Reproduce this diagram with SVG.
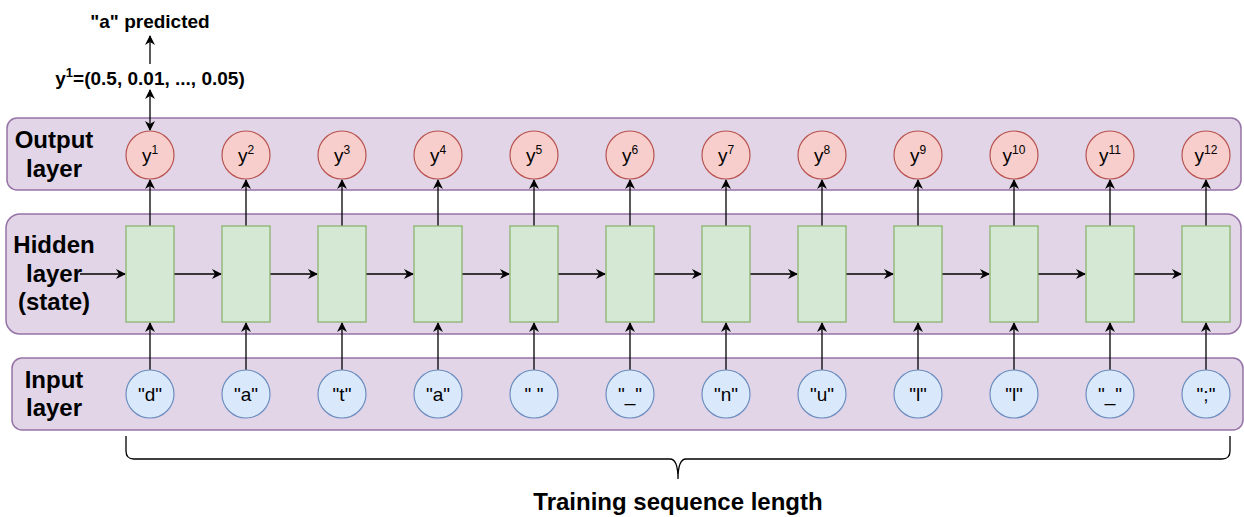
<svg xmlns="http://www.w3.org/2000/svg" width="1244" height="517" viewBox="0 0 1244 517">
<style>
.layer{fill:#e1d5e7;stroke:#9673a6;stroke-width:1.5}
.out{fill:#f8cecc;stroke:#b85450;stroke-width:1.2}
.inp{fill:#dae8fc;stroke:#6c8ebf;stroke-width:1.2}
.hid{fill:#d5e8d4;stroke:#82b366;stroke-width:1.2}
.lbl{font-family:"Liberation Sans",Arial,sans-serif;font-weight:bold;font-size:24px;fill:#000;text-anchor:middle}
.t{font-family:"Liberation Sans",Arial,sans-serif;font-size:19px;fill:#000;text-anchor:middle}
.b{font-family:"Liberation Sans",Arial,sans-serif;font-weight:bold;font-size:19px;fill:#000;text-anchor:middle}
.c{stroke:#000;stroke-width:1.3;fill:none}
</style>
<defs>
<marker id="ah" viewBox="0 0 10 10" refX="9" refY="5" markerWidth="10" markerHeight="10" markerUnits="userSpaceOnUse" orient="auto-start-reverse">
<path d="M0,0 L10,5 L0,10 L3,5 Z" fill="#000"/>
</marker>
</defs>
<g id="layers">
<g id="output-layer"><rect class="layer" x="7" y="118" width="1234" height="72" rx="10"/><text class="lbl" x="54" y="148">Output</text><text class="lbl" x="54" y="177">layer</text></g>
<g id="hidden-layer"><rect class="layer" x="6" y="214" width="1235" height="120" rx="14"/><text class="lbl" x="54" y="253">Hidden</text><text class="lbl" x="54" y="282">layer</text><text class="lbl" x="54" y="310">(state)</text></g>
<g id="input-layer"><rect class="layer" x="12" y="358" width="1231" height="72" rx="10"/><text class="lbl" x="54" y="388">Input</text><text class="lbl" x="54" y="416">layer</text></g>
</g>
<g id="connectors">
<line class="c" x1="150" y1="90" x2="150" y2="130" marker-start="url(#ah)" marker-end="url(#ah)"/>
<line class="c" x1="150" y1="64" x2="150" y2="36" marker-end="url(#ah)"/>
<line class="c" x1="80" y1="274" x2="125" y2="274" marker-end="url(#ah)"/>
<g id="vert">
<line class="c" x1="150" y1="226" x2="150" y2="180" marker-end="url(#ah)"/><line class="c" x1="150" y1="370" x2="150" y2="323" marker-end="url(#ah)"/>
<line class="c" x1="246" y1="226" x2="246" y2="180" marker-end="url(#ah)"/><line class="c" x1="246" y1="370" x2="246" y2="323" marker-end="url(#ah)"/>
<line class="c" x1="342" y1="226" x2="342" y2="180" marker-end="url(#ah)"/><line class="c" x1="342" y1="370" x2="342" y2="323" marker-end="url(#ah)"/>
<line class="c" x1="438" y1="226" x2="438" y2="180" marker-end="url(#ah)"/><line class="c" x1="438" y1="370" x2="438" y2="323" marker-end="url(#ah)"/>
<line class="c" x1="534" y1="226" x2="534" y2="180" marker-end="url(#ah)"/><line class="c" x1="534" y1="370" x2="534" y2="323" marker-end="url(#ah)"/>
<line class="c" x1="630" y1="226" x2="630" y2="180" marker-end="url(#ah)"/><line class="c" x1="630" y1="370" x2="630" y2="323" marker-end="url(#ah)"/>
<line class="c" x1="726" y1="226" x2="726" y2="180" marker-end="url(#ah)"/><line class="c" x1="726" y1="370" x2="726" y2="323" marker-end="url(#ah)"/>
<line class="c" x1="822" y1="226" x2="822" y2="180" marker-end="url(#ah)"/><line class="c" x1="822" y1="370" x2="822" y2="323" marker-end="url(#ah)"/>
<line class="c" x1="918" y1="226" x2="918" y2="180" marker-end="url(#ah)"/><line class="c" x1="918" y1="370" x2="918" y2="323" marker-end="url(#ah)"/>
<line class="c" x1="1014" y1="226" x2="1014" y2="180" marker-end="url(#ah)"/><line class="c" x1="1014" y1="370" x2="1014" y2="323" marker-end="url(#ah)"/>
<line class="c" x1="1110" y1="226" x2="1110" y2="180" marker-end="url(#ah)"/><line class="c" x1="1110" y1="370" x2="1110" y2="323" marker-end="url(#ah)"/>
<line class="c" x1="1206" y1="226" x2="1206" y2="180" marker-end="url(#ah)"/><line class="c" x1="1206" y1="370" x2="1206" y2="323" marker-end="url(#ah)"/>
</g>
<g id="horiz">
<line class="c" x1="174" y1="274" x2="221" y2="274" marker-end="url(#ah)"/>
<line class="c" x1="270" y1="274" x2="317" y2="274" marker-end="url(#ah)"/>
<line class="c" x1="366" y1="274" x2="413" y2="274" marker-end="url(#ah)"/>
<line class="c" x1="462" y1="274" x2="509" y2="274" marker-end="url(#ah)"/>
<line class="c" x1="558" y1="274" x2="605" y2="274" marker-end="url(#ah)"/>
<line class="c" x1="654" y1="274" x2="701" y2="274" marker-end="url(#ah)"/>
<line class="c" x1="750" y1="274" x2="797" y2="274" marker-end="url(#ah)"/>
<line class="c" x1="846" y1="274" x2="893" y2="274" marker-end="url(#ah)"/>
<line class="c" x1="942" y1="274" x2="989" y2="274" marker-end="url(#ah)"/>
<line class="c" x1="1038" y1="274" x2="1085" y2="274" marker-end="url(#ah)"/>
<line class="c" x1="1134" y1="274" x2="1181" y2="274" marker-end="url(#ah)"/>
</g>
</g>
<g id="hidden-cells">
<rect class="hid" x="126" y="226" width="48" height="96"/>
<rect class="hid" x="222" y="226" width="48" height="96"/>
<rect class="hid" x="318" y="226" width="48" height="96"/>
<rect class="hid" x="414" y="226" width="48" height="96"/>
<rect class="hid" x="510" y="226" width="48" height="96"/>
<rect class="hid" x="606" y="226" width="48" height="96"/>
<rect class="hid" x="702" y="226" width="48" height="96"/>
<rect class="hid" x="798" y="226" width="48" height="96"/>
<rect class="hid" x="894" y="226" width="48" height="96"/>
<rect class="hid" x="990" y="226" width="48" height="96"/>
<rect class="hid" x="1086" y="226" width="48" height="96"/>
<rect class="hid" x="1182" y="226" width="48" height="96"/>
</g>
<g id="outputs">
<g id="y1"><circle class="out" cx="150" cy="155" r="24"/><text class="t" x="150" y="162">y<tspan font-size="12" dy="-8">1</tspan></text></g>
<g id="y2"><circle class="out" cx="246" cy="155" r="24"/><text class="t" x="246" y="162">y<tspan font-size="12" dy="-8">2</tspan></text></g>
<g id="y3"><circle class="out" cx="342" cy="155" r="24"/><text class="t" x="342" y="162">y<tspan font-size="12" dy="-8">3</tspan></text></g>
<g id="y4"><circle class="out" cx="438" cy="155" r="24"/><text class="t" x="438" y="162">y<tspan font-size="12" dy="-8">4</tspan></text></g>
<g id="y5"><circle class="out" cx="534" cy="155" r="24"/><text class="t" x="534" y="162">y<tspan font-size="12" dy="-8">5</tspan></text></g>
<g id="y6"><circle class="out" cx="630" cy="155" r="24"/><text class="t" x="630" y="162">y<tspan font-size="12" dy="-8">6</tspan></text></g>
<g id="y7"><circle class="out" cx="726" cy="155" r="24"/><text class="t" x="726" y="162">y<tspan font-size="12" dy="-8">7</tspan></text></g>
<g id="y8"><circle class="out" cx="822" cy="155" r="24"/><text class="t" x="822" y="162">y<tspan font-size="12" dy="-8">8</tspan></text></g>
<g id="y9"><circle class="out" cx="918" cy="155" r="24"/><text class="t" x="918" y="162">y<tspan font-size="12" dy="-8">9</tspan></text></g>
<g id="y10"><circle class="out" cx="1014" cy="155" r="24"/><text class="t" x="1014" y="162">y<tspan font-size="12" dy="-8">10</tspan></text></g>
<g id="y11"><circle class="out" cx="1110" cy="155" r="24"/><text class="t" x="1110" y="162">y<tspan font-size="12" dy="-8">11</tspan></text></g>
<g id="y12"><circle class="out" cx="1206" cy="155" r="24"/><text class="t" x="1206" y="162">y<tspan font-size="12" dy="-8">12</tspan></text></g>
</g>
<g id="inputs">
<g id="x1"><circle class="inp" cx="150" cy="394" r="24"/><text class="t" x="150" y="401">"d"</text></g>
<g id="x2"><circle class="inp" cx="246" cy="394" r="24"/><text class="t" x="246" y="401">"a"</text></g>
<g id="x3"><circle class="inp" cx="342" cy="394" r="24"/><text class="t" x="342" y="401">"t"</text></g>
<g id="x4"><circle class="inp" cx="438" cy="394" r="24"/><text class="t" x="438" y="401">"a"</text></g>
<g id="x5"><circle class="inp" cx="534" cy="394" r="24"/><text class="t" x="534" y="401" xml:space="preserve">" "</text></g>
<g id="x6"><circle class="inp" cx="630" cy="394" r="24"/><text class="t" x="630" y="401">"_"</text></g>
<g id="x7"><circle class="inp" cx="726" cy="394" r="24"/><text class="t" x="726" y="401">"n"</text></g>
<g id="x8"><circle class="inp" cx="822" cy="394" r="24"/><text class="t" x="822" y="401">"u"</text></g>
<g id="x9"><circle class="inp" cx="918" cy="394" r="24"/><text class="t" x="918" y="401">"l"</text></g>
<g id="x10"><circle class="inp" cx="1014" cy="394" r="24"/><text class="t" x="1014" y="401">"l"</text></g>
<g id="x11"><circle class="inp" cx="1110" cy="394" r="24"/><text class="t" x="1110" y="401">"_"</text></g>
<g id="x12"><circle class="inp" cx="1206" cy="394" r="24"/><text class="t" x="1206" y="401">";"</text></g>
</g>
<g id="annotations">
<text class="b" x="150" y="28">"a" predicted</text>
<text class="b" x="150" y="85">y<tspan font-size="13" dy="-8">1</tspan><tspan dy="8">=(0.5, 0.01, ..., 0.05)</tspan></text>
</g>
<g id="brace">
<path class="c" d="M126,436 L126,451 Q126,459 134,459 L670,459 Q678,459 678,479 Q678,459 686,459 L1222,459 Q1230,459 1230,451 L1230,436"/>
<text class="lbl" x="678" y="510">Training sequence length</text>
</g>
</svg>
